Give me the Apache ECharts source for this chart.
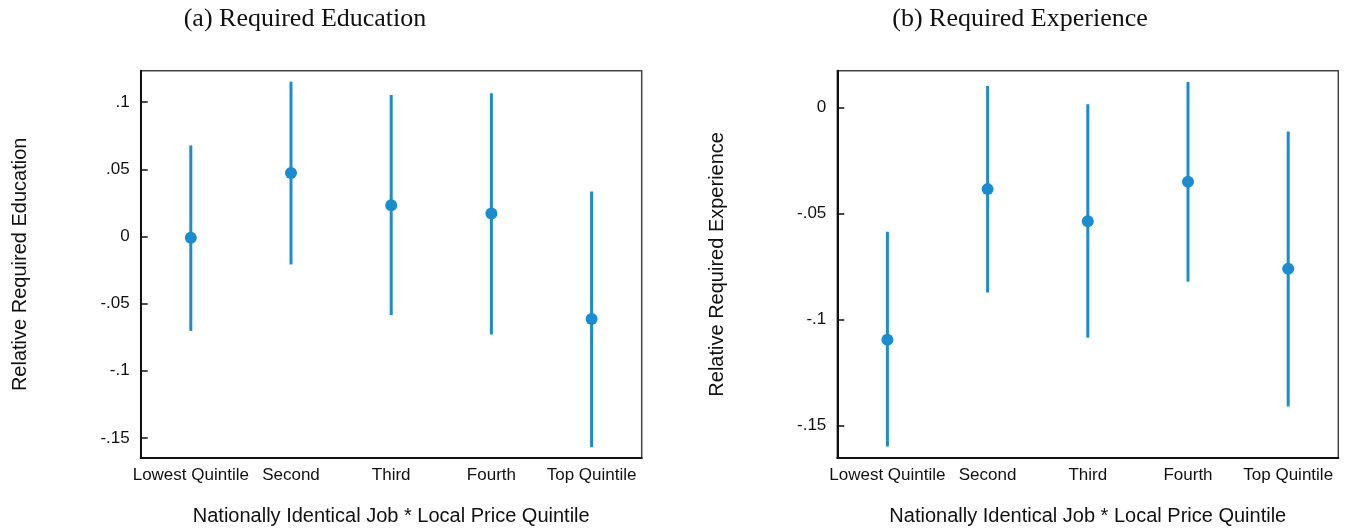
<!DOCTYPE html>
<html>
<head>
<meta charset="utf-8">
<script src="https://cdn.jsdelivr.net/npm/echarts@6/dist/echarts.min.js"></script>
<style>
html,body{margin:0;padding:0;background:#fff;}
#chart{width:1353px;height:531px;}
</style>
</head>
<body>
<div id="chart"></div>
<script>
// ---- data ----
const categories = ['Lowest Quintile', 'Second', 'Third', 'Fourth', 'Top Quintile'];

const eduPoint = [-0.001, 0.0473, 0.0232, 0.0171, -0.0614];
const eduLow   = [-0.0703, -0.0208, -0.0586, -0.0730, -0.1569];
const eduHigh  = [0.0678, 0.1153, 0.1054, 0.1067, 0.0336];

const expPoint = [-0.1095, -0.0385, -0.0536, -0.0350, -0.0760];
const expLow   = [-0.1598, -0.0872, -0.1085, -0.0821, -0.1409];
const expHigh  = [-0.0586, 0.0101, 0.0015, 0.0120, -0.0113];

const eduTicks = [-0.15, -0.1, -0.05, 0, 0.05, 0.1];
const expTicks = [-0.15, -0.1, -0.05, 0];

const titles = ['(a) Required Education', '(b) Required Experience'];
const yNames = ['Relative Required Education', 'Relative Required Experience'];
const xName = 'Nationally Identical Job * Local Price Quintile';

// ---- styling ----
const BLUE = '#1b8ccf';
const sans = '"Liberation Sans", Arial, sans-serif';
const serif = '"Liberation Serif", "DejaVu Serif", serif';

function fmt(v) {
  const s = String(+(+v).toFixed(3));
  return s.replace(/^(-?)0\./, '$1.');
}

function errorRender(params, api) {
  const x = api.value(0);
  const p1 = api.coord([x, api.value(1)]);
  const p2 = api.coord([x, api.value(2)]);
  return {
    type: 'line',
    shape: { x1: p1[0], y1: p1[1], x2: p2[0], y2: p2[1] },
    style: { stroke: BLUE, lineWidth: 3 }
  };
}

const grids = [
  { left: 140.7, top: 70.7, width: 501, height: 388.6 },
  { left: 837.3, top: 70.7, width: 501, height: 388.6 }
];

function xAxisCfg(idx) {
  return {
    type: 'category', gridIndex: idx, data: categories,
    boundaryGap: true,
    axisLine: { onZero: false, lineStyle: { color: '#111', width: 2 } },
    axisTick: { inside: true, alignWithLabel: true, interval: 0, length: 6, lineStyle: { color: '#111', width: 1.5 } },
    axisLabel: { interval: 0, color: '#111', fontFamily: sans, fontSize: 17, margin: 9 },
    name: xName, nameLocation: 'middle', nameGap: 48,
    nameTextStyle: { color: '#111', fontFamily: sans, fontSize: 20 },
    splitLine: { show: false }
  };
}

function yAxisCfg(idx, min, max, ticks, name) {
  return {
    type: 'value', gridIndex: idx, min: min, max: max,
    axisLine: { show: true, onZero: false, lineStyle: { color: '#111', width: 2 } },
    axisTick: { show: true, inside: true, length: 7, customValues: ticks, lineStyle: { color: '#111', width: 1.5 } },
    axisLabel: { color: '#111', fontFamily: sans, fontSize: 17, margin: 11, customValues: ticks, formatter: fmt },
    splitLine: { show: false },
    name: name, nameLocation: 'middle', nameGap: 110, nameRotate: 90,
    nameTextStyle: { color: '#111', fontFamily: sans, fontSize: 20 }
  };
}

const option = {
  backgroundColor: '#fff',
  animation: false,
  title: [
    { text: titles[0], left: 300, top: 1, textAlign: 'center',
      textStyle: { fontFamily: serif, fontSize: 26, fontWeight: 'normal', color: '#111' } },
    { text: titles[1], left: 1015, top: 1, textAlign: 'center',
      textStyle: { fontFamily: serif, fontSize: 26, fontWeight: 'normal', color: '#111' } }
  ],
  grid: grids.map(g => Object.assign({ show: true, borderColor: '#444', borderWidth: 1.5, backgroundColor: 'transparent' }, g)),
  xAxis: [xAxisCfg(0), xAxisCfg(1)],
  yAxis: [
    yAxisCfg(0, -0.165, 0.1235, eduTicks, yNames[0]),
    yAxisCfg(1, -0.1652, 0.0173, expTicks, yNames[1])
  ],
  series: [
    { type: 'custom', xAxisIndex: 0, yAxisIndex: 0, renderItem: errorRender,
      data: categories.map((c, i) => [i, eduLow[i], eduHigh[i]]), z: 2 },
    { type: 'scatter', xAxisIndex: 0, yAxisIndex: 0, data: eduPoint,
      symbolSize: 12, itemStyle: { color: BLUE, opacity: 1 }, z: 3 },
    { type: 'custom', xAxisIndex: 1, yAxisIndex: 1, renderItem: errorRender,
      data: categories.map((c, i) => [i, expLow[i], expHigh[i]]), z: 2 },
    { type: 'scatter', xAxisIndex: 1, yAxisIndex: 1, data: expPoint,
      symbolSize: 12, itemStyle: { color: BLUE, opacity: 1 }, z: 3 }
  ]
};

const chart = echarts.init(document.getElementById('chart'), null, { renderer: 'canvas' });
chart.setOption(option);
</script>
</body>
</html>
